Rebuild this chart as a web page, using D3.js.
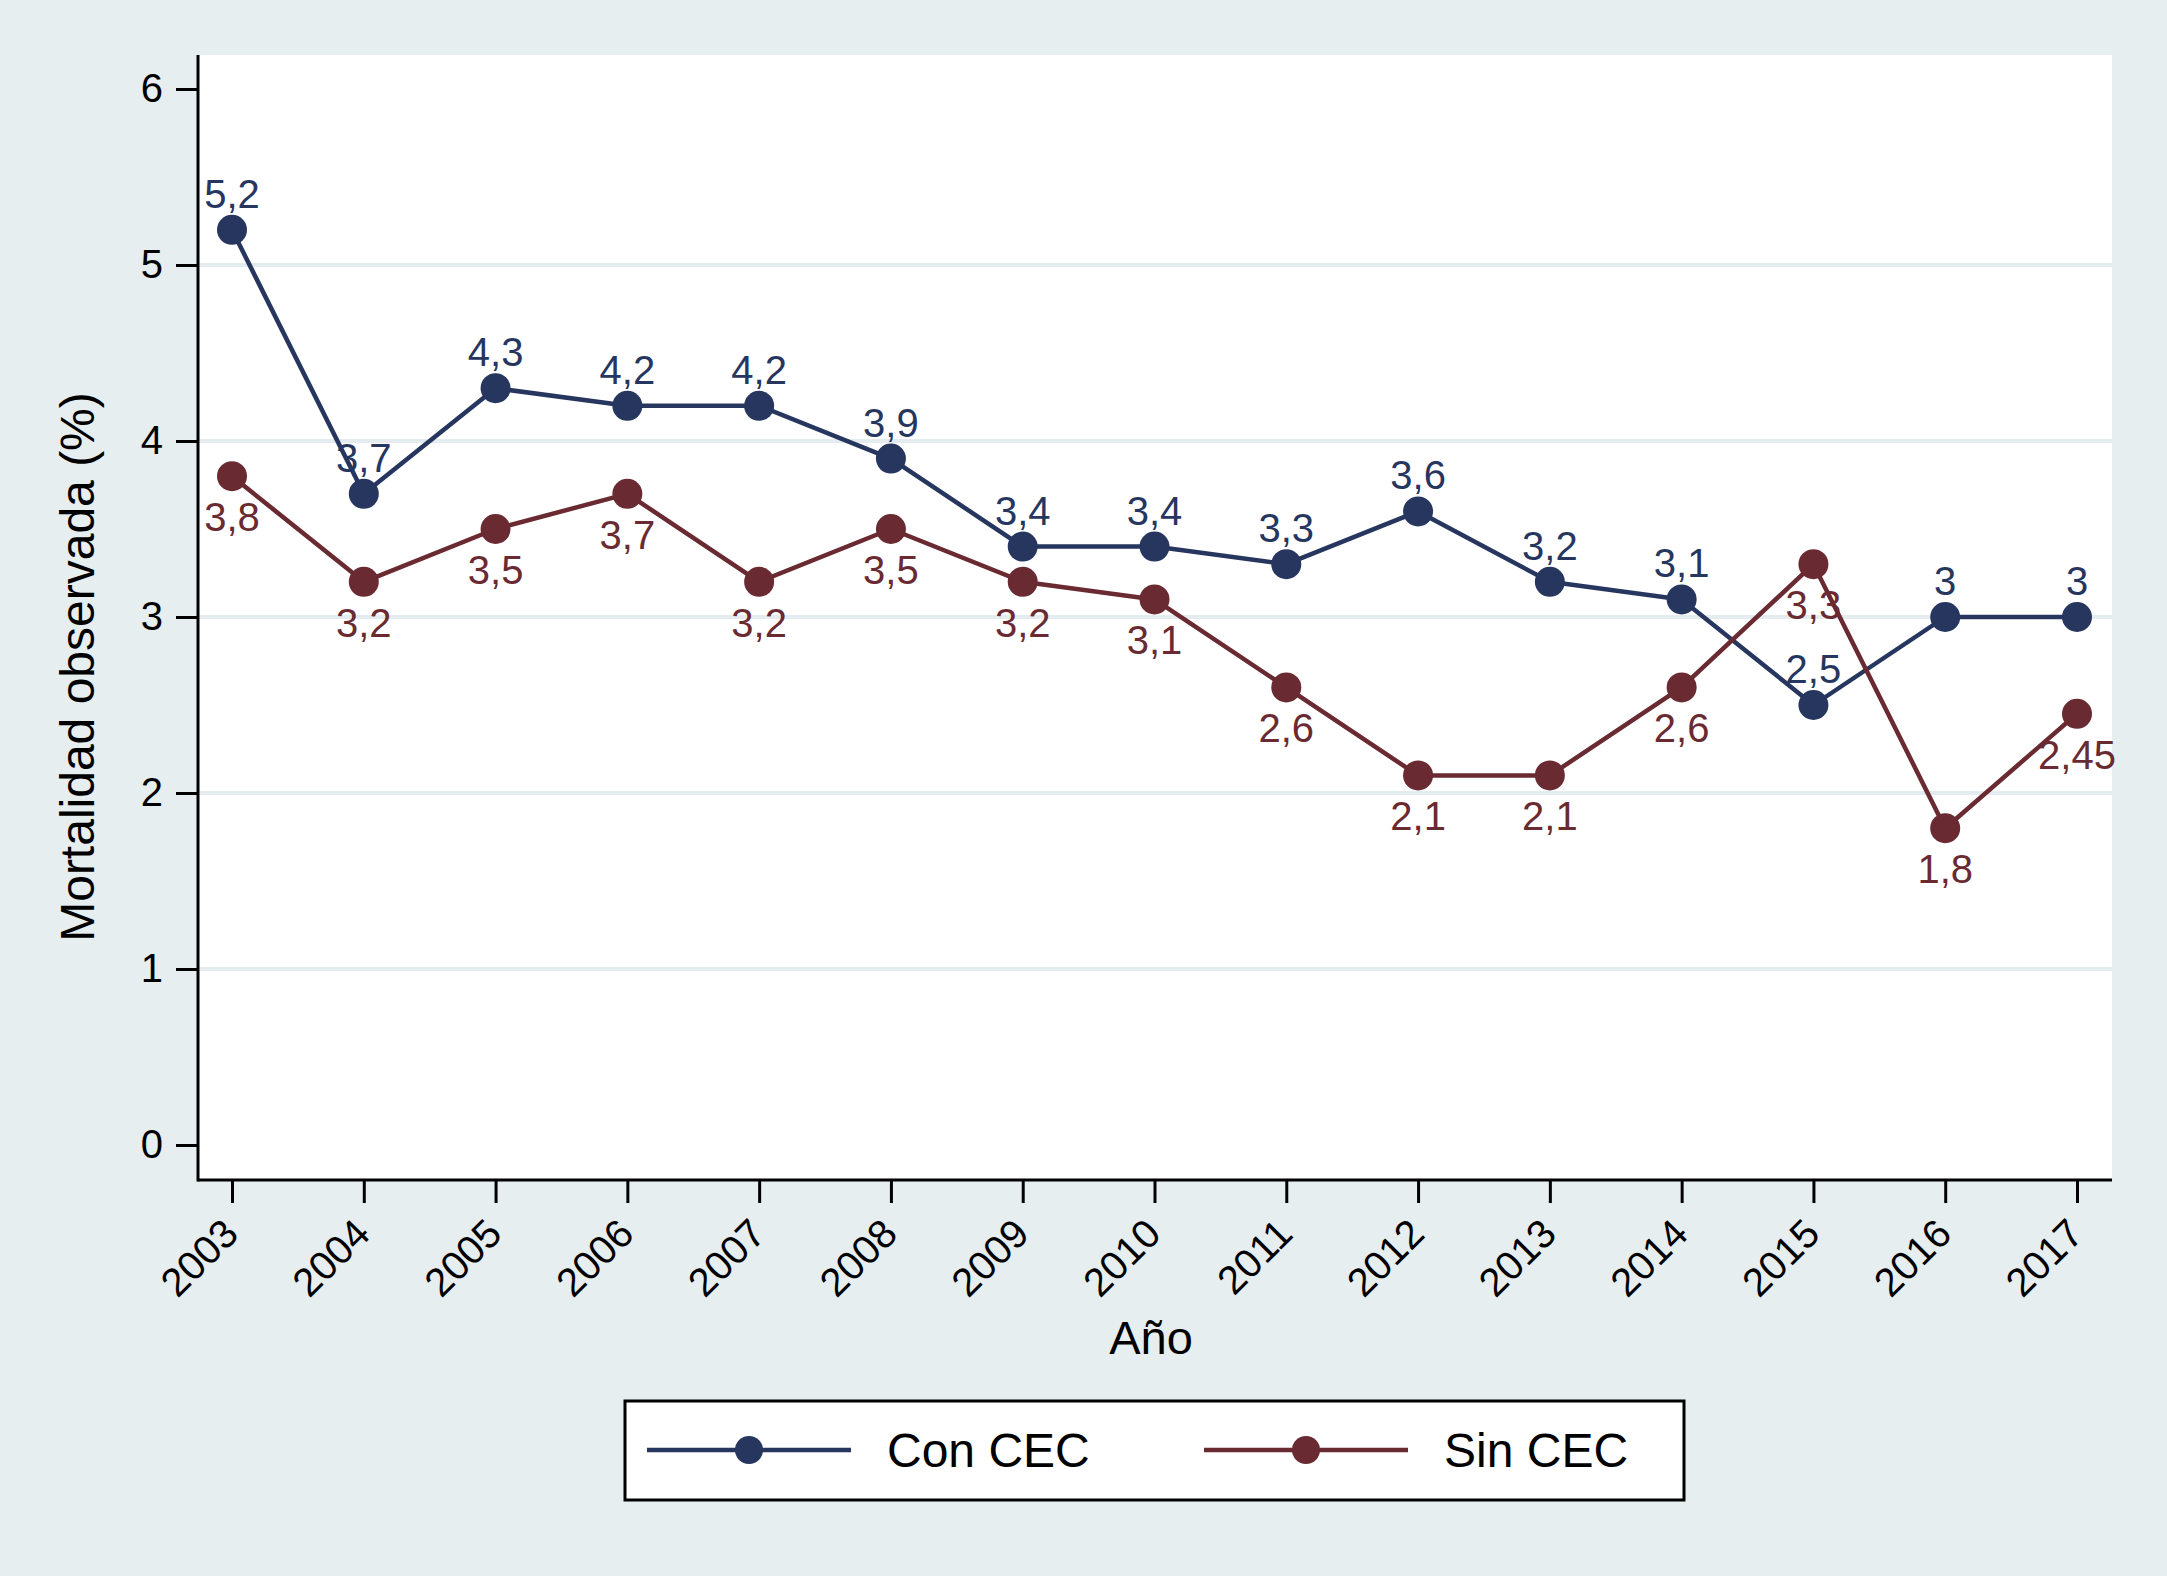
<!DOCTYPE html>
<html>
<head>
<meta charset="utf-8">
<script src="https://cdnjs.cloudflare.com/ajax/libs/d3/7.8.5/d3.min.js"></script>
<style>
  html, body { margin: 0; padding: 0; background: #e7eef0; }
  svg { display: block; font-family: "Liberation Sans", Arial, sans-serif; }
</style>
</head>
<body>
<div id="chart"></div>
<script>
// data
const years = [2003, 2004, 2005, 2006, 2007, 2008, 2009, 2010, 2011, 2012, 2013, 2014, 2015, 2016, 2017];
const conCEC = [5.2, 3.7, 4.3, 4.2, 4.2, 3.9, 3.4, 3.4, 3.3, 3.6, 3.2, 3.1, 2.5, 3, 3];
const sinCEC = [3.8, 3.2, 3.5, 3.7, 3.2, 3.5, 3.2, 3.1, 2.6, 2.1, 2.1, 2.6, 3.3, 1.8, 2.45];
const yTicks = [0, 1, 2, 3, 4, 5, 6];
const gridTicks = [1, 2, 3, 4, 5];
const seriesNames = ["Con CEC", "Sin CEC"];

const W = 2167, H = 1576;
const plot = { left: 198, right: 2112, top: 55, bottom: 1180 };
const colors = { con: "#26365f", sin: "#6a2a31", bg: "#e7eef0", grid: "#e4ecef" };

const svg = d3.select("#chart").append("svg")
    .attr("width", W)
    .attr("height", H);

svg.append("rect").attr("width", W).attr("height", H).attr("fill", colors.bg);

svg.append("rect")
    .attr("x", plot.left).attr("y", plot.top)
    .attr("width", plot.right - plot.left)
    .attr("height", plot.bottom - plot.top)
    .attr("fill", "#ffffff");

const x = d3.scaleLinear().domain([2003, 2017]).range([232, 2077]);
const y = d3.scaleLinear().domain([0, 6]).range([1145, 89]);

// grid
svg.append("g").selectAll("line")
    .data(gridTicks)
    .join("line")
    .attr("x1", plot.left).attr("x2", plot.right)
    .attr("y1", d => y(d)).attr("y2", d => y(d))
    .attr("stroke", colors.grid)
    .attr("stroke-width", 4);

// y axis
const yAxis = svg.append("g")
    .attr("transform", `translate(${plot.left},0)`)
    .call(d3.axisLeft(y).tickValues(yTicks).tickSize(22).tickPadding(13).tickFormat(d3.format("d")));
yAxis.select(".domain").remove();
yAxis.selectAll(".tick line").attr("stroke", "#000").attr("stroke-width", 3);
yAxis.selectAll(".tick text").attr("font-size", 40).attr("fill", "#000")
    .attr("font-family", "'Liberation Sans', Arial, sans-serif");

// x axis
const xAxis = svg.append("g")
    .attr("transform", `translate(0,${plot.bottom})`)
    .call(d3.axisBottom(x).tickValues(years).tickSize(23).tickPadding(0).tickFormat(d3.format("d")));
xAxis.select(".domain").remove();
xAxis.selectAll(".tick line").attr("stroke", "#000").attr("stroke-width", 3);
xAxis.selectAll(".tick text")
    .attr("font-size", 40).attr("fill", "#000")
    .attr("font-family", "'Liberation Sans', Arial, sans-serif")
    .attr("text-anchor", "end")
    .attr("dy", null)
    .attr("y", null)
    .attr("transform", "translate(8,56) rotate(-45)");

// axis lines
svg.append("line")
    .attr("x1", plot.left).attr("x2", plot.left)
    .attr("y1", plot.top).attr("y2", plot.bottom + 1.5)
    .attr("stroke", "#000").attr("stroke-width", 3);
svg.append("line")
    .attr("x1", plot.left).attr("x2", plot.right)
    .attr("y1", plot.bottom).attr("y2", plot.bottom)
    .attr("stroke", "#000").attr("stroke-width", 3);

// axis titles
svg.append("text")
    .attr("transform", "translate(94,667) rotate(-90)")
    .attr("text-anchor", "middle")
    .attr("font-size", 48)
    .text("Mortalidad observada (%)");

svg.append("text")
    .attr("x", 1151).attr("y", 1354)
    .attr("text-anchor", "middle")
    .attr("font-size", 47)
    .text("Año");

// series
const fmt = v => String(v).replace(".", ",");
const series = [
    { name: seriesNames[0], values: conCEC, color: colors.con, above: true },
    { name: seriesNames[1], values: sinCEC, color: colors.sin, above: false }
];

const line = d3.line().x((d, i) => x(years[i])).y(d => y(d));

series.forEach(s => {
    const g = svg.append("g");
    g.append("path")
        .datum(s.values)
        .attr("d", line)
        .attr("fill", "none")
        .attr("stroke", s.color)
        .attr("stroke-width", 4.5)
        .attr("stroke-linejoin", "round");
    g.selectAll("circle")
        .data(s.values)
        .join("circle")
        .attr("cx", (d, i) => x(years[i]))
        .attr("cy", d => y(d))
        .attr("r", 15)
        .attr("fill", s.color);
    g.selectAll("text")
        .data(s.values)
        .join("text")
        .attr("x", (d, i) => x(years[i]))
        .attr("y", d => y(d) + (s.above ? -22 : 55))
        .attr("text-anchor", "middle")
        .attr("font-size", 40)
        .attr("fill", s.color)
        .text(fmt);
});

// legend
const legend = svg.append("g");
legend.append("rect")
    .attr("x", 625).attr("y", 1401)
    .attr("width", 1059).attr("height", 99)
    .attr("fill", "#fff")
    .attr("stroke", "#000").attr("stroke-width", 3);

const legendX = [647, 1204];
series.forEach((s, i) => {
    const lx = legendX[i];
    legend.append("line")
        .attr("x1", lx).attr("x2", lx + 204)
        .attr("y1", 1450).attr("y2", 1450)
        .attr("stroke", s.color).attr("stroke-width", 4.5);
    legend.append("circle")
        .attr("cx", lx + 102).attr("cy", 1450).attr("r", 14)
        .attr("fill", s.color);
    legend.append("text")
        .attr("x", lx + 240).attr("y", 1467)
        .attr("font-size", 48)
        .text(s.name);
});
</script>
</body>
</html>
